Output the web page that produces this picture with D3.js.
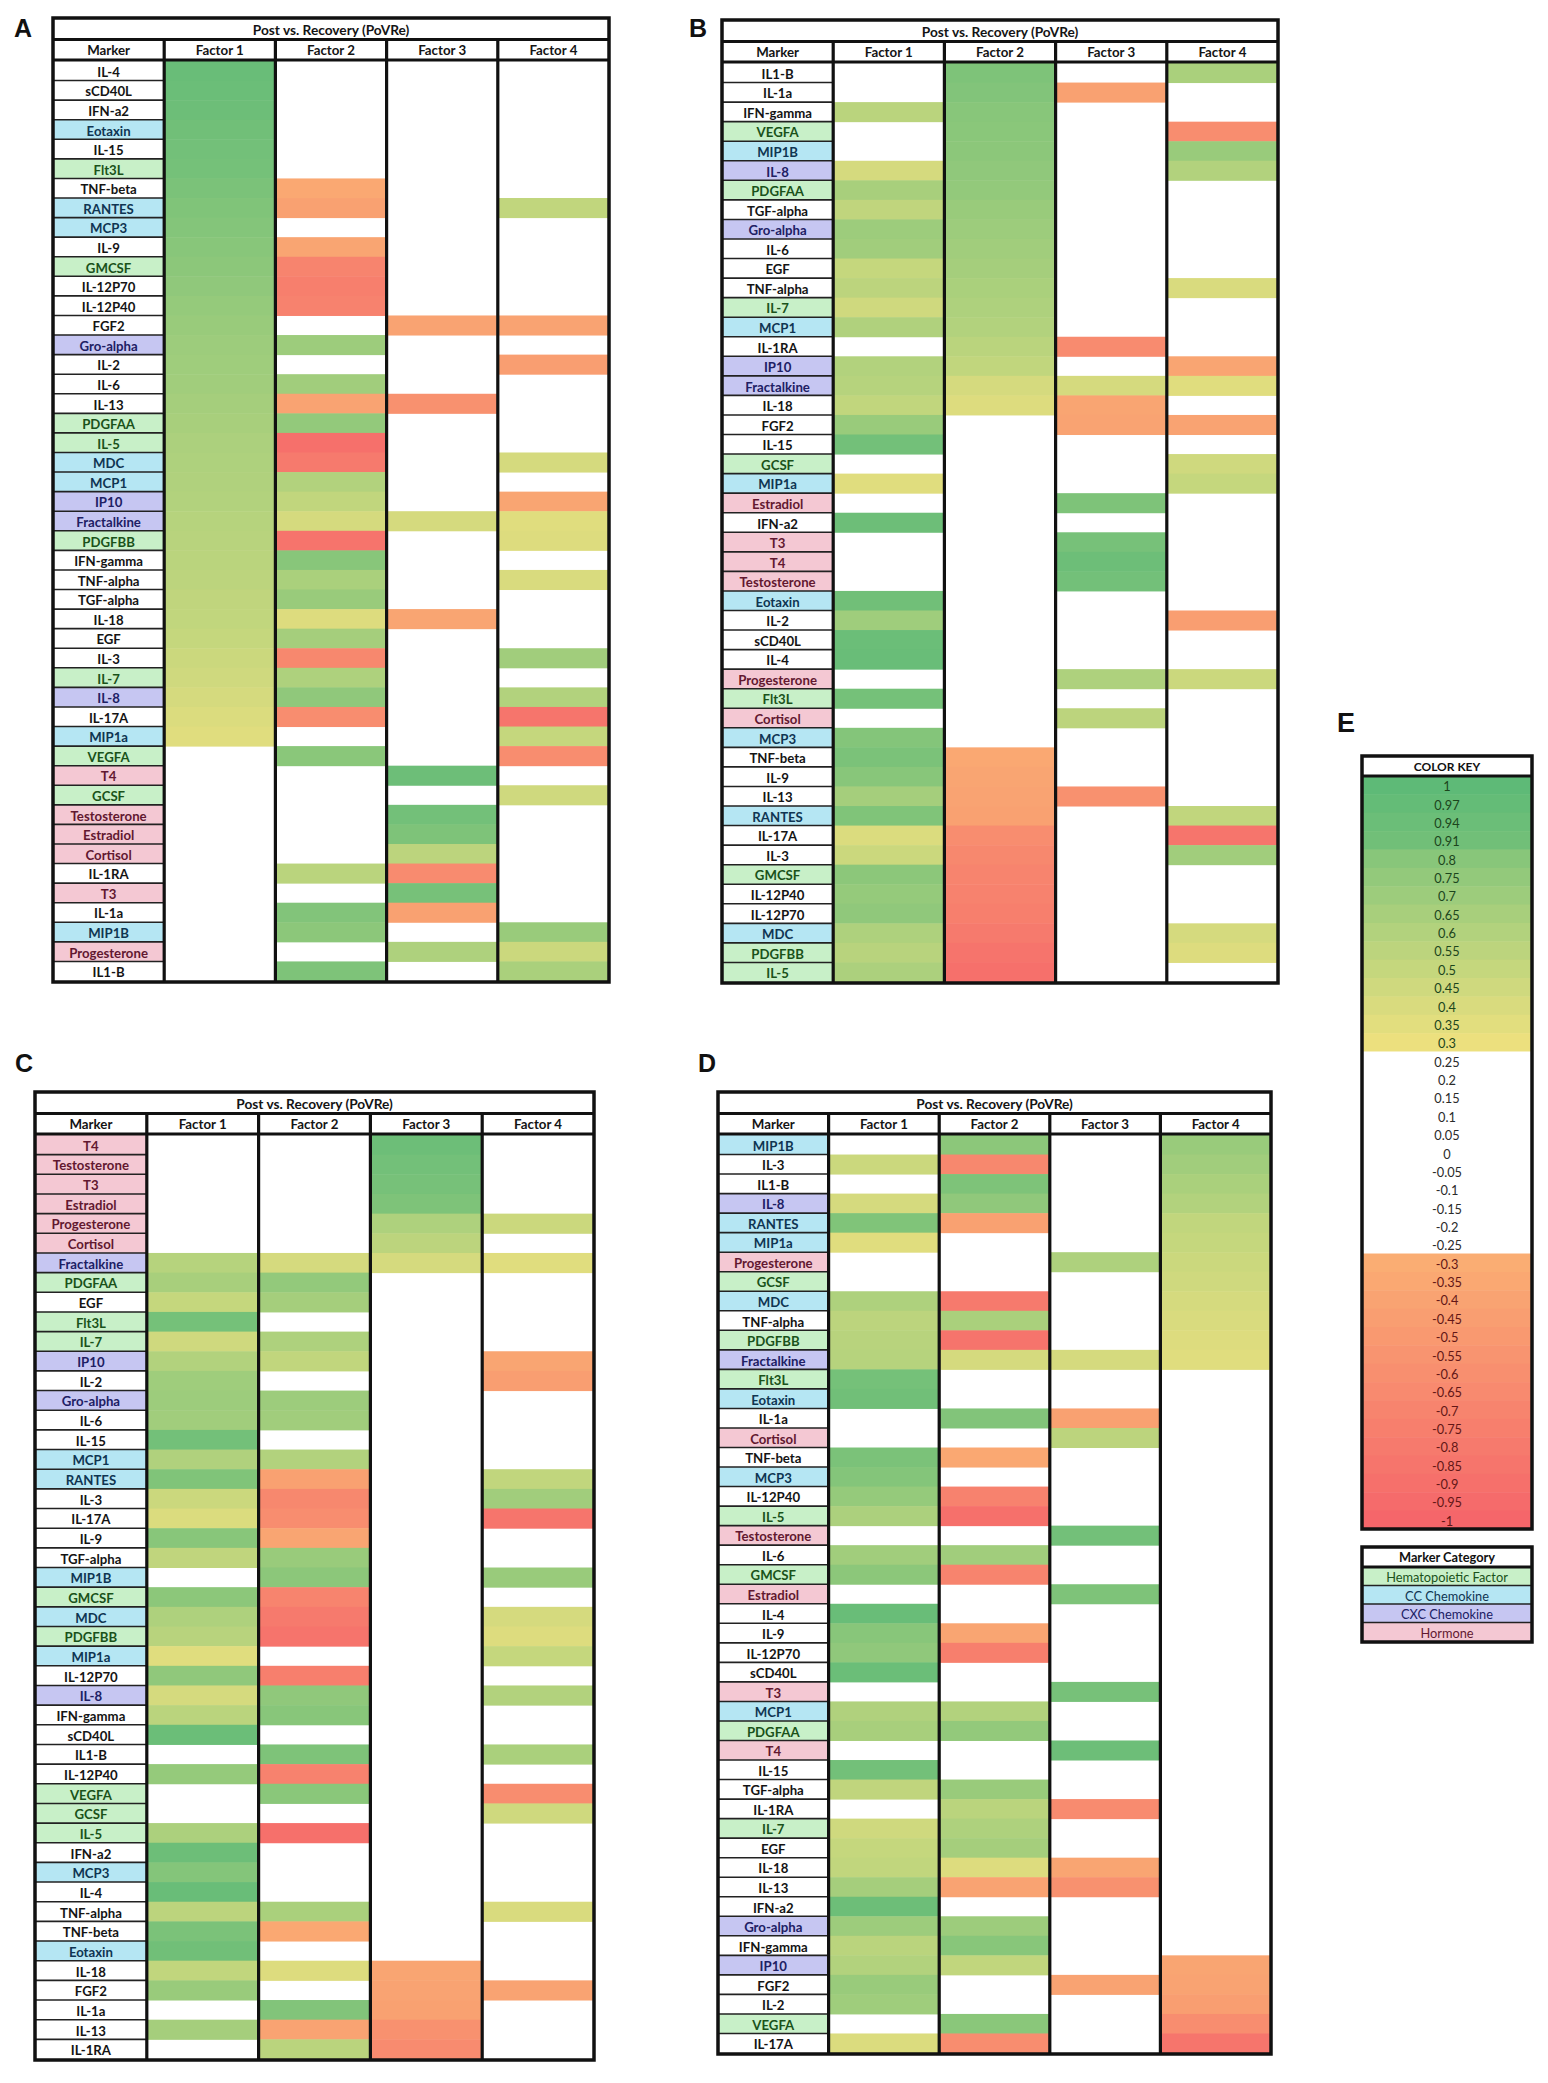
<!DOCTYPE html>
<html><head><meta charset="utf-8">
<script src="https://cdn.jsdelivr.net/npm/d3@7"></script>
<style>body{margin:0;background:#fff} svg{display:block}</style>
</head><body>
<svg id="chart" width="1548" height="2083"></svg>
<script>
// ---------------- DATA ----------------
const panelTitle = "Post vs. Recovery (PoVRe)";
const columnNames = ["Marker", "Factor 1", "Factor 2", "Factor 3", "Factor 4"];

// Panel A: sorted by Factor 1 ; factor1 loadings aligned with this order
const orderA = ["IL-4","sCD40L","IFN-a2","Eotaxin","IL-15","Flt3L","TNF-beta","RANTES","MCP3","IL-9","GMCSF","IL-12P70","IL-12P40","FGF2","Gro-alpha","IL-2","IL-6","IL-13","PDGFAA","IL-5","MDC","MCP1","IP10","Fractalkine","PDGFBB","IFN-gamma","TNF-alpha","TGF-alpha","IL-18","EGF","IL-3","IL-7","IL-8","IL-17A","MIP1a","VEGFA","T4","GCSF","Testosterone","Estradiol","Cortisol","IL-1RA","T3","IL-1a","MIP1B","Progesterone","IL1-B"];
const factor1 = [0.95,0.94,0.93,0.91,0.90,0.89,0.86,0.84,0.82,0.80,0.78,0.76,0.74,0.72,0.70,0.69,0.68,0.66,0.65,0.63,0.62,0.61,0.60,0.58,0.57,0.56,0.55,0.53,0.52,0.50,0.47,0.45,0.42,0.39,0.36,0.26,0.22,0.20,0.17,0.14,0.10,0.07,0.04,0.00,-0.04,-0.08,-0.12];

// Panel B: sorted by Factor 2
const orderB = ["IL1-B","IL-1a","IFN-gamma","VEGFA","MIP1B","IL-8","PDGFAA","TGF-alpha","Gro-alpha","IL-6","EGF","TNF-alpha","IL-7","MCP1","IL-1RA","IP10","Fractalkine","IL-18","FGF2","IL-15","GCSF","MIP1a","Estradiol","IFN-a2","T3","T4","Testosterone","Eotaxin","IL-2","sCD40L","IL-4","Progesterone","Flt3L","Cortisol","MCP3","TNF-beta","IL-9","IL-13","RANTES","IL-17A","IL-3","GMCSF","IL-12P40","IL-12P70","MDC","PDGFBB","IL-5"];
const factor2 = [0.85,0.83,0.80,0.79,0.78,0.76,0.75,0.72,0.70,0.68,0.66,0.64,0.62,0.60,0.56,0.52,0.42,0.38,0.26,0.24,0.22,0.20,0.17,0.15,0.12,0.10,0.08,0.05,0.03,0.00,-0.03,-0.06,-0.10,-0.15,-0.22,-0.35,-0.38,-0.40,-0.42,-0.62,-0.66,-0.70,-0.72,-0.75,-0.80,-0.86,-0.90];

// Panel C: sorted by Factor 3
const orderC = ["T4","Testosterone","T3","Estradiol","Progesterone","Cortisol","Fractalkine","PDGFAA","EGF","Flt3L","IL-7","IP10","IL-2","Gro-alpha","IL-6","IL-15","MCP1","RANTES","IL-3","IL-17A","IL-9","TGF-alpha","MIP1B","GMCSF","MDC","PDGFBB","MIP1a","IL-12P70","IL-8","IFN-gamma","sCD40L","IL1-B","IL-12P40","VEGFA","GCSF","IL-5","IFN-a2","MCP3","IL-4","TNF-alpha","TNF-beta","Eotaxin","IL-18","FGF2","IL-1a","IL-13","IL-1RA"];
const factor3 = [0.93,0.90,0.88,0.85,0.62,0.55,0.42,0.27,0.25,0.24,0.22,0.21,0.19,0.18,0.16,0.14,0.13,0.11,0.10,0.08,0.06,0.05,0.03,0.02,0.00,-0.02,-0.03,-0.05,-0.06,-0.08,-0.10,-0.11,-0.13,-0.14,-0.16,-0.18,-0.19,-0.21,-0.22,-0.24,-0.25,-0.27,-0.38,-0.40,-0.42,-0.58,-0.64];

// Panel D: sorted by Factor 4
const orderD = ["MIP1B","IL-3","IL1-B","IL-8","RANTES","MIP1a","Progesterone","GCSF","MDC","TNF-alpha","PDGFBB","Fractalkine","Flt3L","Eotaxin","IL-1a","Cortisol","TNF-beta","MCP3","IL-12P40","IL-5","Testosterone","IL-6","GMCSF","Estradiol","IL-4","IL-9","IL-12P70","sCD40L","T3","MCP1","PDGFAA","T4","IL-15","TGF-alpha","IL-1RA","IL-7","EGF","IL-18","IL-13","IFN-a2","Gro-alpha","IFN-gamma","IP10","FGF2","IL-2","VEGFA","IL-17A"];
const factor4 = [0.72,0.68,0.64,0.60,0.52,0.50,0.47,0.45,0.42,0.40,0.38,0.36,0.27,0.25,0.23,0.22,0.20,0.18,0.16,0.15,0.13,0.11,0.09,0.07,0.06,0.04,0.02,0.00,-0.02,-0.04,-0.06,-0.07,-0.09,-0.11,-0.13,-0.15,-0.16,-0.18,-0.20,-0.22,-0.24,-0.26,-0.38,-0.40,-0.45,-0.62,-0.85];

// Marker categories
const categoryNames = ["Hematopoietic Factor", "CC Chemokine", "CXC Chemokine", "Hormone"];
const hematopoieticMarkers = ["Flt3L","GMCSF","PDGFAA","IL-5","PDGFBB","IL-7","VEGFA","GCSF"];
const ccChemokineMarkers = ["Eotaxin","RANTES","MCP3","MDC","MCP1","MIP1a","MIP1B"];
const cxcChemokineMarkers = ["Gro-alpha","IP10","Fractalkine","IL-8"];
const hormoneMarkers = ["T4","Testosterone","Estradiol","Cortisol","T3","Progesterone"];

// Color key labels
const keyLabels = ["1","0.97","0.94","0.91","0.8","0.75","0.7","0.65","0.6","0.55","0.5","0.45","0.4","0.35","0.3","0.25","0.2","0.15","0.1","0.05","0","-0.05","-0.1","-0.15","-0.2","-0.25","-0.3","-0.35","-0.4","-0.45","-0.5","-0.55","-0.6","-0.65","-0.7","-0.75","-0.8","-0.85","-0.9","-0.95","-1"];

// ---------------- BUILD ----------------
const loadings = new Map();
function addFactor(order, vals, k) {
  order.forEach((m, i) => {
    if (!loadings.has(m)) loadings.set(m, [0,0,0,0]);
    loadings.get(m)[k] = vals[i];
  });
}
addFactor(orderA, factor1, 0);
addFactor(orderB, factor2, 1);
addFactor(orderC, factor3, 2);
addFactor(orderD, factor4, 3);

const catOf = new Map();
hematopoieticMarkers.forEach(m => catOf.set(m, 0));
ccChemokineMarkers.forEach(m => catOf.set(m, 1));
cxcChemokineMarkers.forEach(m => catOf.set(m, 2));
hormoneMarkers.forEach(m => catOf.set(m, 3));
const catBg = ["#C8F0C8", "#B5E6F3", "#C6C6F2", "#F4C8D3"];
const catText = ["#1A521A", "#0F3552", "#202064", "#621830"];

const posScale = d3.scaleLinear().domain([0.3, 0.6, 1]).range(["#ECE07E", "#B2D27D", "#5EBA77"]);
const negScale = d3.scaleLinear().domain([-1, -0.3]).range(["#F5666A", "#FAAD73"]);
function cellColor(v) {
  if (v >= 0.3) return posScale(v);
  if (v <= -0.3) return negScale(v);
  return null;
}

const svg = d3.select("#chart");
svg.append("rect").attr("width", 1548).attr("height", 2083).attr("fill", "#fff");

const FONT = "Lato, 'Open Sans', 'DejaVu Sans', sans-serif";

const panels = [
  {id: "A", order: orderA, x0: 53, x1: 609, y0: 18, y1: 982, lx: 14, ly: 37},
  {id: "B", order: orderB, x0: 722, x1: 1278, y0: 20, y1: 983, lx: 689, ly: 37},
  {id: "C", order: orderC, x0: 35, x1: 594, y0: 1092, y1: 2060, lx: 15, ly: 1072},
  {id: "D", order: orderD, x0: 718, x1: 1271, y0: 1092, y1: 2054, lx: 698, ly: 1072}
];

panels.forEach(p => {
  const g = svg.append("g");
  const x = d3.scaleBand().domain(columnNames).range([p.x0, p.x1]);
  const dataTop = p.y0 + 43;
  const y = d3.scaleBand().domain(p.order).range([dataTop, p.y1 - 1]);

  // panel letter
  svg.append("text").attr("x", p.lx).attr("y", p.ly).text(p.id)
    .attr("font-family", "'Liberation Sans', Arial, sans-serif").attr("font-weight", "bold")
    .attr("font-size", 25).attr("fill", "#111");

  // marker label cells
  g.selectAll("rect.lab").data(p.order).join("rect")
    .attr("x", x("Marker")).attr("y", d => y(d))
    .attr("width", x.bandwidth()).attr("height", y.bandwidth())
    .attr("fill", d => catOf.has(d) ? catBg[catOf.get(d)] : "#fff");

  // factor cells
  [1,2,3,4].forEach(k => {
    const col = columnNames[k];
    g.selectAll("rect.f" + k).data(p.order.filter(m => cellColor(loadings.get(m)[k-1]) !== null)).join("rect")
      .attr("x", x(col)).attr("y", d => y(d))
      .attr("width", x.bandwidth()).attr("height", y.bandwidth() + 0.5)
      .attr("fill", d => cellColor(loadings.get(d)[k-1]));
  });

  // thin separators in marker column
  g.selectAll("line.sep").data(p.order.slice(1)).join("line")
    .attr("x1", x("Marker")).attr("x2", x("Marker") + x.bandwidth())
    .attr("y1", d => y(d)).attr("y2", d => y(d))
    .attr("stroke", "#222").attr("stroke-width", 1.6);

  // marker labels
  g.selectAll("text.lab").data(p.order).join("text")
    .attr("x", x("Marker") + x.bandwidth() / 2).attr("y", d => y(d) + y.bandwidth() / 2 + 1)
    .attr("text-anchor", "middle").attr("dominant-baseline", "central")
    .attr("font-family", FONT).attr("font-weight", "bold").attr("font-size", 13.2)
    .attr("fill", d => catOf.has(d) ? catText[catOf.get(d)] : "#141414")
    .text(d => d);

  // title row
  g.append("text").attr("x", (p.x0 + p.x1) / 2).attr("y", p.y0 + 11)
    .attr("text-anchor", "middle").attr("dominant-baseline", "central")
    .attr("font-family", FONT).attr("font-weight", "bold").attr("font-size", 13.7)
    .attr("fill", "#141414").text(panelTitle);

  // header row
  g.selectAll("text.hdr").data(columnNames).join("text")
    .attr("x", d => x(d) + x.bandwidth() / 2).attr("y", p.y0 + 32)
    .attr("text-anchor", "middle").attr("dominant-baseline", "central")
    .attr("font-family", FONT).attr("font-weight", "bold").attr("font-size", 13.3)
    .attr("fill", "#141414").text(d => d);

  // grid lines
  g.append("line").attr("x1", p.x0).attr("x2", p.x1).attr("y1", p.y0 + 21.5).attr("y2", p.y0 + 21.5)
    .attr("stroke", "#111").attr("stroke-width", 3);
  g.append("line").attr("x1", p.x0).attr("x2", p.x1).attr("y1", p.y0 + 42).attr("y2", p.y0 + 42)
    .attr("stroke", "#111").attr("stroke-width", 3);
  g.selectAll("line.v").data(columnNames.slice(1)).join("line")
    .attr("x1", d => x(d)).attr("x2", d => x(d)).attr("y1", p.y0 + 21).attr("y2", p.y1)
    .attr("stroke", "#111").attr("stroke-width", 3.2);
  g.append("rect").attr("x", p.x0).attr("y", p.y0).attr("width", p.x1 - p.x0).attr("height", p.y1 - p.y0)
    .attr("fill", "none").attr("stroke", "#111").attr("stroke-width", 3.5);
});

// ---------------- COLOR KEY (E) ----------------
svg.append("text").attr("x", 1337).attr("y", 732).text("E")
  .attr("font-family", "'Liberation Sans', Arial, sans-serif").attr("font-weight", "bold")
  .attr("font-size", 27).attr("fill", "#111");

const kx0 = 1362, kx1 = 1532, ky0 = 756, ky1 = 1529;
const ky = d3.scaleBand().domain(keyLabels).range([ky0 + 20, ky1]);
const kg = svg.append("g");
kg.selectAll("rect.k").data(keyLabels).join("rect")
  .attr("x", kx0).attr("y", d => ky(d)).attr("width", kx1 - kx0).attr("height", ky.bandwidth() + 0.5)
  .attr("fill", d => cellColor(+d) || "#fff");
kg.selectAll("text.k").data(keyLabels).join("text")
  .attr("x", (kx0 + kx1) / 2).attr("y", d => ky(d) + ky.bandwidth() / 2 + 1)
  .attr("text-anchor", "middle").attr("dominant-baseline", "central")
  .attr("font-family", FONT).attr("font-size", 12.8)
  .attr("fill", d => (+d >= 0.3 ? "#1c451c" : (+d <= -0.3 ? "#631616" : "#2a2a2a")))
  .text(d => d);
kg.append("text").attr("x", (kx0 + kx1) / 2).attr("y", ky0 + 10)
  .attr("text-anchor", "middle").attr("dominant-baseline", "central")
  .attr("font-family", FONT).attr("font-weight", "bold").attr("font-size", 12)
  .attr("fill", "#111").text("COLOR KEY");
kg.append("line").attr("x1", kx0).attr("x2", kx1).attr("y1", ky0 + 20).attr("y2", ky0 + 20)
  .attr("stroke", "#111").attr("stroke-width", 3);
kg.append("rect").attr("x", kx0).attr("y", ky0).attr("width", kx1 - kx0).attr("height", ky1 - ky0)
  .attr("fill", "none").attr("stroke", "#111").attr("stroke-width", 3.5);

// ---------------- MARKER CATEGORY LEGEND ----------------
const lx0 = 1362, lx1 = 1532, ly0 = 1547, ly1 = 1642;
const ly = d3.scaleBand().domain(categoryNames).range([ly0 + 20, ly1 - 1]);
const lg = svg.append("g");
lg.selectAll("rect.c").data(categoryNames).join("rect")
  .attr("x", lx0).attr("y", d => ly(d)).attr("width", lx1 - lx0).attr("height", ly.bandwidth())
  .attr("fill", (d, i) => catBg[i]);
lg.selectAll("line.c").data(categoryNames).join("line")
  .attr("x1", lx0).attr("x2", lx1).attr("y1", d => ly(d)).attr("y2", d => ly(d))
  .attr("stroke", "#222").attr("stroke-width", 1.5);
lg.selectAll("text.c").data(categoryNames).join("text")
  .attr("x", (lx0 + lx1) / 2).attr("y", d => ly(d) + ly.bandwidth() / 2 + 1)
  .attr("text-anchor", "middle").attr("dominant-baseline", "central")
  .attr("font-family", FONT).attr("font-size", 12.8)
  .attr("fill", (d, i) => catText[i]).text(d => d);
lg.append("text").attr("x", (lx0 + lx1) / 2).attr("y", ly0 + 10)
  .attr("text-anchor", "middle").attr("dominant-baseline", "central")
  .attr("font-family", FONT).attr("font-weight", "bold").attr("font-size", 12.8)
  .attr("fill", "#111").text("Marker Category");
lg.append("line").attr("x1", lx0).attr("x2", lx1).attr("y1", ly0 + 20).attr("y2", ly0 + 20)
  .attr("stroke", "#111").attr("stroke-width", 3);
lg.append("rect").attr("x", lx0).attr("y", ly0).attr("width", lx1 - lx0).attr("height", ly1 - ly0)
  .attr("fill", "none").attr("stroke", "#111").attr("stroke-width", 3.5);
</script>
</body></html>
